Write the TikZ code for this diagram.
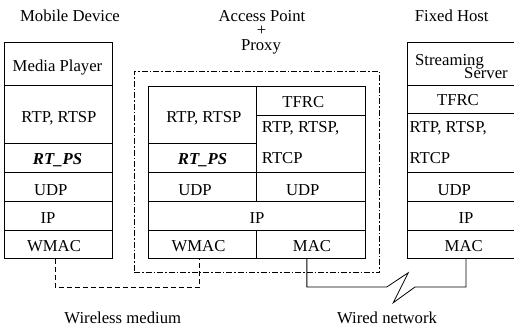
\documentclass[tikz,border=0pt]{standalone}
\usepackage{fontspec}
\setmainfont{Liberation Serif}
\usetikzlibrary{fit}
\begin{document}
\begin{tikzpicture}[x=1pt,y=-1pt,
  cell/.style={draw, line width=0.9pt, inner sep=0pt},
  lbl/.style={font=\fontsize{16.7}{17}\selectfont, inner sep=0pt, anchor=base},
  lbll/.style={lbl, anchor=base west},
  lblr/.style={lbl, anchor=base east},
  proxybox/.style={draw, line width=0.6pt, inner sep=0pt,
    dash pattern=on 6pt off 2pt on 1.5pt off 2pt},
  wireless/.style={draw, line width=0.8pt, dash pattern=on 5pt off 3pt},
  wired/.style={draw, line width=0.8pt}]
\useasboundingbox (0,0) rectangle (514,333);

% column titles
\node[lbl] (tMobile) at (70,21) {Mobile Device};
\node[lbl] (tAP) at (262,21) {Access Point};
\node[lbl] (tPlus) at (261.7,35.2) {+};
\node[lbl] (tProxy) at (261,50) {Proxy};
\node[lbl] (tFixed) at (451.7,21) {Fixed Host};

% proxy boundary
\node[proxybox, fit={(134,71.3) (379.3,272.7)}] (proxy) {};

% mobile device stack
\node[cell, fit={(4.3,42.3) (112.7,85.3)}] (c1) {};
\node[cell, fit={(4.3,85.3) (112.7,143.3)}] (c2) {};
\node[cell, fit={(4.3,143.3) (112.7,172.3)}] (c3) {};
\node[cell, fit={(4.3,172.3) (112.7,201.3)}] (c4) {};
\node[cell, fit={(4.3,201.3) (112.7,230)}] (c5) {};
\node[cell, fit={(4.3,230) (112.7,258.7)}] (c6) {};
\node[lbl] (lc1) at (57.5,71) {Media Player};
\node[lbl] (lc2) at (59,122.7) {RTP, RTSP};
\node[lbl] (lc3) at (57.5,164.3) {\textbf{\textit{RT\_PS}}};
\node[lbl] (lc4) at (50.8,195) {UDP};
\node[lbl] (lc5) at (48,223.3) {IP};
\node[lbl] (lc6) at (54,251) {WMAC};

% access point + proxy stack
\node[cell, fit={(148.3,86) (256.7,143.3)}] (m1) {};
\node[cell, fit={(148.3,143.3) (256.7,172.3)}] (m2) {};
\node[cell, fit={(256.7,86) (365,115)}] (m3) {};
\node[cell, fit={(256.7,115) (365,172.3)}] (m4) {};
\node[cell, fit={(148.3,172.3) (256.7,201.3)}] (m5) {};
\node[cell, fit={(256.7,172.3) (365,201.3)}] (m6) {};
\node[cell, fit={(148.3,201.3) (365,230)}] (m7) {};
\node[cell, fit={(148.3,230) (256.7,258.7)}] (m8) {};
\node[cell, fit={(256.7,230) (365,258.7)}] (m9) {};
\node[lbl] (lm1) at (203.8,122) {RTP, RTSP};
\node[lbl] (lm2) at (202.5,164.3) {\textbf{\textit{RT\_PS}}};
\node[lbl] (lm3) at (303.3,107) {TFRC};
\node[lbll] (lm4a) at (261.7,132.7) {RTP, RTSP,};
\node[lbll] (lm4b) at (261.7,163.3) {RTCP};
\node[lbl] (lm5) at (195,195) {UDP};
\node[lbl] (lm6) at (302.8,195) {UDP};
\node[lbl] (lm7) at (257,223.3) {IP};
\node[lbl] (lm8) at (198.5,251) {WMAC};
\node[lbl] (lm9) at (312,251) {MAC};

% fixed host stack
\node[cell, fit={(407.3,42.3) (530,85.3)}] (r1) {};
\node[cell, fit={(407.3,85.3) (530,113.3)}] (r2) {};
\node[cell, fit={(407.3,113.3) (530,172.3)}] (r3) {};
\node[cell, fit={(407.3,172.3) (530,201.3)}] (r4) {};
\node[cell, fit={(407.3,201.3) (530,230)}] (r5) {};
\node[cell, fit={(407.3,230) (530,258.7)}] (r6) {};
\node[lbll] (lr1a) at (415,65) {Streaming};
\node[lblr] (lr1b) at (508,78) {Server};
\node[lbl] (lr2) at (458,105.8) {TFRC};
\node[lbll] (lr3a) at (409.3,132.7) {RTP, RTSP,};
\node[lbll] (lr3b) at (409.3,163.3) {RTCP};
\node[lbl] (lr4) at (454.3,195) {UDP};
\node[lbl] (lr5) at (466,223.3) {IP};
\node[lbl] (lr6) at (463.7,251) {MAC};

% wireless link
\draw[wireless] ([xshift=-3.5pt]c6.south) -- ++(0,28.3) -| ([xshift=-3.5pt]m8.south);

% wired link with break symbol
\coordinate (z1) at (386.7,287);
\coordinate (z2) at (408.3,272.7);
\coordinate (z3) at (393.3,302.7);
\coordinate (z4) at (415,287);
\draw[wired] ([xshift=-4pt]m9.south) |- (z1) -- (z2) -- (z3) -- (z4) -| ([xshift=-2.6pt]r6.south);

% link captions
\node[lbl] (tWireless) at (122.8,323.3) {Wireless medium};
\node[lbl] (tWired) at (387,323.3) {Wired network};
\end{tikzpicture}
\end{document}
